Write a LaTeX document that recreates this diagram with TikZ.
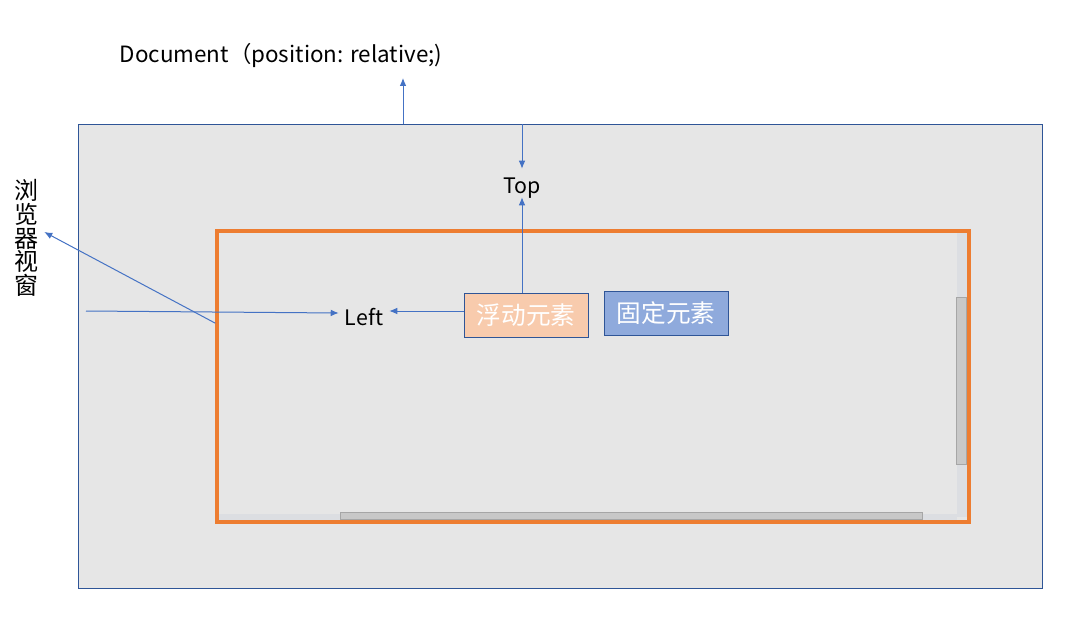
\documentclass[tikz,border=0pt]{standalone}
\usepackage{fontspec}
\setmainfont{Noto Sans CJK SC}
\usetikzlibrary{arrows.meta}
\definecolor{docgray}{HTML}{E6E6E6}
\definecolor{docline}{HTML}{2F5597}
\definecolor{vporange}{HTML}{ED7D31}
\definecolor{arrblue}{HTML}{4472C4}
\definecolor{floatfill}{HTML}{F8CBAD}
\definecolor{fixfill}{HTML}{8FAADC}
\definecolor{trackgray}{HTML}{DCDEE2}
\definecolor{thumbgray}{HTML}{C8C8C8}
\definecolor{thumbline}{HTML}{A6A6A6}
\begin{document}
\begin{tikzpicture}[x=0.75pt,y=-0.75pt,
  lbl/.style={inner sep=0pt, font=\fontsize{16}{19}\selectfont, text=black},
  elem/.style={draw=docline, line width=0.75pt, inner sep=0pt,
    minimum width=93pt, minimum height=33pt, text=white,
    font=\fontsize{18.5}{20}\selectfont},
  arr/.style={draw=arrblue, line width=0.75pt, -{Latex[length=6pt,width=5pt]}}]
\useasboundingbox (0,0) rectangle (1079,635);
% document
\node[draw=docline, fill=docgray, line width=0.75pt, inner sep=0pt,
  minimum width=723pt, minimum height=347.25pt] (doc) at (560,356.5) {};
% scrollbars
\fill[trackgray] (957,232) rectangle (967,517);
\fill[trackgray] (218,514) rectangle (957,521);
\filldraw[fill=thumbgray, draw=thumbline, line width=0.5pt] (956,297) rectangle (966,464);
\filldraw[fill=thumbgray, draw=thumbline, line width=0.5pt] (340,512) rectangle (922,519);
% viewport
\node[draw=vporange, line width=2.6pt, inner sep=0pt,
  minimum width=564pt, minimum height=218.25pt] (vp) at (593,376.5) {};
% labels
\node[lbl, font=\fontsize{16.8}{19}\selectfont] (doclbl) at (281,55.5) {Document（position: relative;)};
\node[lbl, minimum height=21pt, text height=17pt, text depth=2pt] (top) at (522,183) {Top};
\node[lbl, minimum width=37.5pt] (left) at (364,317) {Left};
\node[lbl, minimum width=25.5pt, align=center,
  font=\fontsize{18}{17.7}\selectfont] (browser) at (27,238) {浏\\览\\器\\视\\窗};
% elements
\node[elem, fill=floatfill] (float) at (526,315) {浮动元素};
\node[elem, fill=fixfill] (fixed) at (666,313) {固定元素};
% connectors
\coordinate (dtip) at (403,78);
\coordinate (lsrc) at (86,311);
\draw[arr] (doc.north -| dtip) -- (dtip);
\draw[arr] (doc.north -| top.north) -- (top.north);
\draw[arr] (float.north -| top.south) -- (top.south);
\draw[arr] ([yshift=3pt]float.west) coordinate (fw) -- (left.east |- fw);
\draw[arr] (lsrc) -- ([yshift=3pt]left.west);
\draw[arr] ([yshift=40pt]vp.west) -- ([yshift=4.5pt]browser.east);
\end{tikzpicture}
\end{document}
